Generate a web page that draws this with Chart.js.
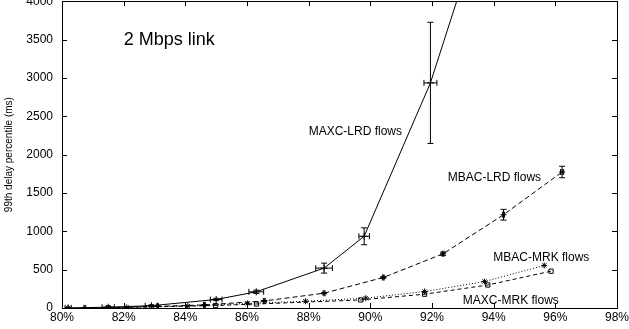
<!DOCTYPE html>
<html>
<head>
<meta charset="utf-8">
<script src="https://cdn.jsdelivr.net/npm/chart.js@4/dist/chart.umd.min.js"></script>
<style>
  html, body { margin: 0; padding: 0; background: #fff; overflow: hidden; width: 629px; height: 329px; }
  #wrap { position: absolute; left: 0; top: -15px; width: 631px; height: 357px; }
</style>
</head>
<body>
<div id="wrap"><canvas id="c"></canvas></div>
<script>
// ---- data ----
const xTickValues = [80, 82, 84, 86, 88, 90, 92, 94, 96, 98];
const yTickValues = [0, 500, 1000, 1500, 2000, 2500, 3000, 3500, 4000];

const utilMaxcLrd  = [80.2, 81.5, 82.9, 85.0, 86.3, 88.5, 89.8, 91.95, 94.0];
const delayMaxcLrd = [2, 10, 30, 111, 211, 520, 935, 2935, 5500];
const xErrMaxcLrd  = [0.1, 0.2, 0.2, 0.19, 0.24, 0.27, 0.17, 0.21, 0];
const yErrMaxcLrd  = [2, 4, 8, 15, 22, 65, 110, 790, 0];

const utilMbacLrd  = [80.74, 83.1, 84.62, 86.56, 88.5, 90.42, 92.36, 94.32, 96.22];
const delayMbacLrd = [1, 22, 40, 92, 193, 398, 707, 1216, 1773];
const xErrMbacLrd  = [0.03, 0.03, 0.03, 0.03, 0.03, 0.03, 0.03, 0.03, 0.05];
const yErrMbacLrd  = [1, 3, 4, 6, 8, 10, 20, 70, 75];

const utilMbacMrk  = [80.2, 82.1, 84.08, 86.02, 87.9, 89.85, 91.76, 93.7, 95.64];
const delayMbacMrk = [0, 8, 25, 60, 88, 128, 215, 345, 555];

const utilMaxcMrk  = [81.5, 82.9, 84.98, 86.31, 89.69, 91.76, 93.81, 95.86];
const delayMaxcMrk = [4, 15, 32, 52, 105, 180, 300, 480];

const labelTexts = ['2 Mbps link', 'MAXC-LRD flows', 'MBAC-LRD flows', 'MBAC-MRK flows', 'MAXC-MRK flows'];
const labelX     = [82.0, 88.0, 92.51, 93.99, 93.0];
const labelY     = [3500, 2300, 1699, 650, 95];
const labelSizes = [18, 12, 12, 12, 12];

const FONT = '"Liberation Sans", Arial, Helvetica, sans-serif';

function pts(xs, ys) { return xs.map((x, i) => ({ x: x, y: ys[i] })); }

const errorBarPlugin = {
  id: 'errorBars',
  afterDatasetsDraw(chart) {
    const ctx = chart.ctx, xs = chart.scales.x, ys = chart.scales.y, a = chart.chartArea;
    ctx.save();
    ctx.beginPath(); ctx.rect(a.left, a.top, a.right - a.left, a.bottom - a.top); ctx.clip();
    ctx.strokeStyle = '#000'; ctx.lineWidth = 1; ctx.setLineDash([]);
    chart.data.datasets.forEach(ds => {
      if (!ds.yErr && !ds.xErr) return;
      ds.data.forEach((p, i) => {
        const px = xs.getPixelForValue(p.x), py = ys.getPixelForValue(p.y);
        const ye = ds.yErr ? ds.yErr[i] : 0, xe = ds.xErr ? ds.xErr[i] : 0;
        if (ye > 0) {
          const t = ys.getPixelForValue(p.y + ye), b = ys.getPixelForValue(p.y - ye);
          ctx.beginPath();
          ctx.moveTo(px, t); ctx.lineTo(px, b);
          ctx.moveTo(px - 3, t); ctx.lineTo(px + 3, t);
          ctx.moveTo(px - 3, b); ctx.lineTo(px + 3, b);
          ctx.stroke();
        }
        if (xe > 0) {
          const l = xs.getPixelForValue(p.x - xe), r = xs.getPixelForValue(p.x + xe);
          ctx.beginPath();
          ctx.moveTo(l, py); ctx.lineTo(r, py);
          ctx.moveTo(l, py - 3); ctx.lineTo(l, py + 3);
          ctx.moveTo(r, py - 3); ctx.lineTo(r, py + 3);
          ctx.stroke();
        }
      });
    });
    ctx.restore();
  }
};

const framePlugin = {
  id: 'frame',
  afterDraw(chart) {
    const ctx = chart.ctx, xs = chart.scales.x, ys = chart.scales.y, a = chart.chartArea;
    ctx.save();
    ctx.strokeStyle = '#000'; ctx.lineWidth = 1; ctx.setLineDash([]);
    ctx.strokeRect(Math.round(a.left) + 0.5, Math.round(a.top) + 0.5,
                   Math.round(a.right - a.left), Math.round(a.bottom - a.top));
    ctx.beginPath();
    xTickValues.forEach(v => {
      const px = Math.round(xs.getPixelForValue(v)) + 0.5;
      ctx.moveTo(px, a.bottom); ctx.lineTo(px, a.bottom - 5);
      ctx.moveTo(px, a.top); ctx.lineTo(px, a.top + 5);
    });
    yTickValues.forEach(v => {
      const py = Math.round(ys.getPixelForValue(v)) + 0.5;
      ctx.moveTo(a.left, py); ctx.lineTo(a.left + 5, py);
      ctx.moveTo(a.right, py); ctx.lineTo(a.right - 5, py);
    });
    ctx.stroke();
    // annotations
    ctx.fillStyle = '#000';
    ctx.textBaseline = 'middle';
    ctx.textAlign = 'left';
    labelTexts.forEach((t, i) => {
      ctx.font = labelSizes[i] + 'px ' + FONT;
      ctx.fillText(t, xs.getPixelForValue(labelX[i]), ys.getPixelForValue(labelY[i]));
    });
    ctx.restore();
  }
};

const common = {
  borderColor: '#000', borderWidth: 1, showLine: true, fill: false,
  pointBorderColor: '#000', pointBackgroundColor: 'rgba(0,0,0,0)', pointBorderWidth: 1,
  pointRadius: 3, tension: 0
};

new Chart(document.getElementById('c'), {
  type: 'scatter',
  data: {
    datasets: [
      Object.assign({}, common, { label: 'MAXC-LRD flows', data: pts(utilMaxcLrd, delayMaxcLrd),
        xErr: xErrMaxcLrd, yErr: yErrMaxcLrd, pointStyle: 'cross', pointRadius: 3.5 }),
      Object.assign({}, common, { label: 'MBAC-LRD flows', data: pts(utilMbacLrd, delayMbacLrd),
        xErr: xErrMbacLrd, yErr: yErrMbacLrd, pointStyle: 'cross', borderDash: [5, 3] }),
      Object.assign({}, common, { label: 'MBAC-MRK flows', data: pts(utilMbacMrk, delayMbacMrk),
        pointStyle: 'star', borderDash: [1, 2] }),
      Object.assign({}, common, { label: 'MAXC-MRK flows', data: pts(utilMaxcMrk, delayMaxcMrk),
        pointStyle: 'rect', pointRadius: 3, borderDash: [4, 3] })
    ]
  },
  options: {
    responsive: true, maintainAspectRatio: false, animation: false,
    layout: { padding: 0 },
    plugins: { legend: { display: false }, tooltip: { enabled: false } },
    scales: {
      x: {
        type: 'linear', min: 80, max: 98,
        grid: { display: false, drawTicks: false },
        border: { display: false },
        afterBuildTicks: s => { s.ticks = xTickValues.map(v => ({ value: v })); },
        ticks: { padding: 2, color: '#000', font: { family: FONT, size: 12 }, callback: v => v + '%', maxRotation: 0 },
        title: { display: true, text: 'link utilization', color: '#000', font: { family: FONT, size: 13 }, padding: { top: 0, bottom: 0 } }
      },
      y: {
        type: 'linear', min: 0, max: 4000,
        grid: { display: false, drawTicks: false },
        border: { display: false },
        afterBuildTicks: s => { s.ticks = yTickValues.map(v => ({ value: v })); },
        afterFit: s => { s.width = 62; },
        ticks: { padding: 9, color: '#000', font: { family: FONT, size: 12 }, callback: v => String(v) },
        title: { display: true, text: '99th delay percentile (ms)', color: '#000', font: { family: FONT, size: 10 }, padding: { top: 3, bottom: 0 } }
      }
    }
  },
  plugins: [errorBarPlugin, framePlugin]
});
</script>
</body>
</html>
